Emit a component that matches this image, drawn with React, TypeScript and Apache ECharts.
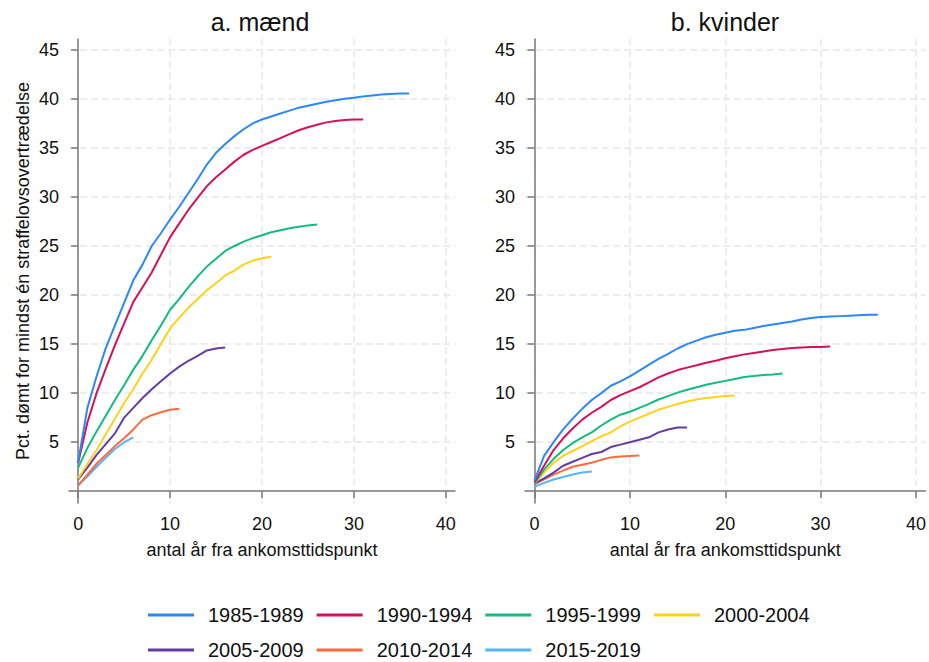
import React, { useEffect, useRef } from "react";
import * as echarts from "echarts";

const periods = ["1985-1989", "1990-1994", "1995-1999", "2000-2004", "2005-2009", "2010-2014", "2015-2019"];
const colors = ["#2a88f8", "#d41159", "#12bb82", "#ffd21a", "#623da3", "#fe6a3c", "#55b5f7"];

const panelTitles = ["a. mænd", "b. kvinder"];
const yAxisTitle = "Pct. dømt for mindst én straffelovsovertrædelse";
const xAxisTitle = "antal år fra ankomsttidspunkt";
const xTicks = [0, 10, 20, 30, 40];
const yTicks = [5, 10, 15, 20, 25, 30, 35, 40, 45];

// Men: value at year 0, 1, 2, ...
const men1985 = [3.0, 8.5, 11.7, 14.6, 16.9, 19.2, 21.5, 23.1, 25.0, 26.3, 27.7, 29.0, 30.4, 31.8, 33.3, 34.5, 35.4, 36.2, 36.9, 37.5, 37.9, 38.2, 38.5, 38.8, 39.1, 39.3, 39.5, 39.7, 39.85, 40.0, 40.1, 40.25, 40.35, 40.45, 40.5, 40.55, 40.55];
const men1990 = [2.9, 7.0, 10.0, 12.5, 14.9, 17.1, 19.3, 20.8, 22.3, 24.1, 25.9, 27.3, 28.7, 29.9, 31.1, 32.0, 32.8, 33.6, 34.3, 34.8, 35.2, 35.6, 36.0, 36.4, 36.8, 37.1, 37.35, 37.6, 37.75, 37.85, 37.9, 37.9];
const men1995 = [2.4, 4.4, 6.1, 7.7, 9.3, 10.8, 12.4, 13.8, 15.4, 16.9, 18.5, 19.6, 20.8, 21.9, 22.9, 23.7, 24.5, 25.0, 25.45, 25.8, 26.1, 26.4, 26.6, 26.8, 26.95, 27.1, 27.2];
const men2000 = [1.3, 2.8, 4.2, 5.8, 7.4, 9.0, 10.4, 12.0, 13.4, 15.0, 16.6, 17.7, 18.7, 19.6, 20.5, 21.2, 22.0, 22.5, 23.1, 23.5, 23.75, 23.9];
const men2005 = [1.2, 2.4, 3.7, 4.8, 5.9, 7.5, 8.5, 9.5, 10.4, 11.2, 12.0, 12.7, 13.3, 13.8, 14.35, 14.55, 14.65];
const men2010 = [0.6, 1.7, 2.8, 3.7, 4.6, 5.4, 6.3, 7.3, 7.75, 8.05, 8.3, 8.4];
const men2015 = [0.6, 1.5, 2.5, 3.4, 4.3, 5.0, 5.5];

// Women
const women1985 = [1.1, 3.6, 5.0, 6.3, 7.4, 8.4, 9.3, 10.0, 10.75, 11.2, 11.7, 12.3, 12.9, 13.5, 14.0, 14.55, 15.0, 15.35, 15.7, 15.95, 16.15, 16.35, 16.45, 16.65, 16.85, 17.0, 17.15, 17.3, 17.5, 17.65, 17.75, 17.8, 17.85, 17.9, 17.95, 18.0, 18.0];
const women1990 = [0.95, 2.6, 4.2, 5.4, 6.4, 7.3, 8.0, 8.6, 9.3, 9.8, 10.2, 10.6, 11.1, 11.6, 12.0, 12.35, 12.6, 12.85, 13.1, 13.3, 13.55, 13.75, 13.95, 14.1, 14.25, 14.4, 14.5, 14.6, 14.65, 14.7, 14.7, 14.75];
const women1995 = [0.8, 2.2, 3.3, 4.2, 4.9, 5.5, 6.0, 6.7, 7.3, 7.8, 8.1, 8.5, 8.9, 9.35, 9.7, 10.05, 10.35, 10.6, 10.85, 11.05, 11.25, 11.45, 11.65, 11.75, 11.85, 11.9, 12.0];
const women2000 = [0.8, 1.9, 2.9, 3.6, 4.1, 4.6, 5.1, 5.6, 6.0, 6.6, 7.1, 7.5, 7.9, 8.3, 8.6, 8.9, 9.15, 9.35, 9.5, 9.6, 9.7, 9.75];
const women2005 = [0.8, 1.3, 1.9, 2.6, 3.0, 3.4, 3.8, 4.0, 4.5, 4.75, 5.0, 5.25, 5.5, 6.0, 6.3, 6.5, 6.5];
const women2010 = [0.7, 1.2, 1.7, 2.1, 2.5, 2.7, 2.9, 3.2, 3.45, 3.55, 3.6, 3.65];
const women2015 = [0.45, 0.85, 1.2, 1.45, 1.7, 1.9, 2.0];

const menSeries = [men1985, men1990, men1995, men2000, men2005, men2010, men2015];
const womenSeries = [women1985, women1990, women1995, women2000, women2005, women2010, women2015];

const FONT = "'Liberation Sans', Arial, Helvetica, sans-serif";
const AXIS_COLOR = "#7a7a7a";
const TEXT_COLOR = "#111111";

function makeXAxis(gridIndex: number) {
  return {
    type: "value",
    gridIndex,
    min: -1,
    max: 41,
    axisLine: { show: true, lineStyle: { color: AXIS_COLOR, width: 1.5 } },
    axisTick: { show: true, length: 7, customValues: xTicks, lineStyle: { color: AXIS_COLOR, width: 1.5 } },
    axisLabel: { customValues: xTicks, margin: 12, fontSize: 18, color: TEXT_COLOR, fontFamily: FONT },
    splitLine: { show: true, lineStyle: { color: "#e8e8e8", width: 1.5, type: [7, 4] } },
    name: xAxisTitle,
    nameLocation: "middle",
    nameGap: 38,
    nameTextStyle: { fontSize: 18, color: TEXT_COLOR, fontFamily: FONT },
  };
}

function makeYAxis(gridIndex: number, withName: boolean) {
  return {
    type: "value",
    gridIndex,
    min: -1.2,
    max: 46.1,
    axisLine: { show: true, lineStyle: { color: AXIS_COLOR, width: 1.5 } },
    axisTick: { show: true, length: 7, customValues: yTicks, lineStyle: { color: AXIS_COLOR, width: 1.5 } },
    axisLabel: { customValues: yTicks, margin: 10, fontSize: 18, color: TEXT_COLOR, fontFamily: FONT },
    splitLine: { show: true, lineStyle: { color: "#e8e8e8", width: 1.5, type: [7, 4] } },
    name: withName ? yAxisTitle : "",
    nameLocation: "middle",
    nameGap: 37,
    nameTextStyle: { fontSize: 18, color: TEXT_COLOR, fontFamily: FONT },
  };
}

export default function App() {
  const ref = useRef<HTMLDivElement>(null);

  useEffect(() => {
    if (!ref.current) return;
    const chart = echarts.init(ref.current, null, { renderer: "svg" });

    const series: any[] = [];
    [menSeries, womenSeries].forEach((group, gi) => {
      group.forEach((vals, i) => {
        series.push({
          type: "line",
          name: periods[i],
          xAxisIndex: gi,
          yAxisIndex: gi,
          data: vals.map((v, x) => [x, v]),
          symbol: "none",
          showSymbol: false,
          lineStyle: { width: 2, color: colors[i] },
          itemStyle: { color: colors[i] },
          z: 10 - i,
        });
      });
    });

    const legendCommon = {
      orient: "horizontal",
      icon: "rect",
      itemWidth: 46,
      itemHeight: 3,
      itemGap: 13,
      padding: 0,
      selectedMode: false,
      textStyle: { fontSize: 20, color: TEXT_COLOR, fontFamily: FONT, padding: [0, 0, 0, 9] },
    };

    chart.setOption({
      animation: false,
      backgroundColor: "#ffffff",
      textStyle: { fontFamily: FONT },
      grid: [
        { left: 69, top: 39, width: 386, height: 464, containLabel: false },
        { left: 525, top: 39, width: 401, height: 464, containLabel: false },
      ],
      xAxis: [makeXAxis(0), makeXAxis(1)],
      yAxis: [makeYAxis(0, true), makeYAxis(1, false)],
      legend: [
        { ...legendCommon, data: periods.slice(0, 4), left: 148, top: 605 },
        { ...legendCommon, data: periods.slice(4), left: 148, top: 640 },
      ],
      graphic: [
        {
          type: "text",
          x: 260,
          y: 22,
          style: { text: panelTitles[0], fontSize: 25, fontFamily: FONT, fill: TEXT_COLOR, align: "center", verticalAlign: "middle" },
        },
        {
          type: "text",
          x: 725,
          y: 22,
          style: { text: panelTitles[1], fontSize: 25, fontFamily: FONT, fill: TEXT_COLOR, align: "center", verticalAlign: "middle" },
        },
      ],
      series,
    });

    return () => chart.dispose();
  }, []);

  return (
    <div
      ref={ref}
      style={{ position: "absolute", left: 0, top: 0, width: 929, height: 662, background: "#fff" }}
    />
  );
}
